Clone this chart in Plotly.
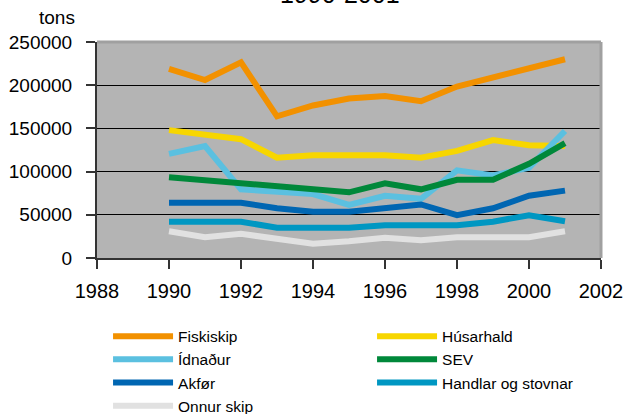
import plotly.graph_objects as go

years = list(range(1990, 2002))

fiskiskip = [219000, 206000, 226500, 164000, 176500, 184500, 187500, 181500, 198500, 209000, 219500, 230000]
husarhald = [148000, 142000, 137500, 116000, 119000, 119000, 119000, 116000, 124000, 136500, 130500, 129500]
idnadur = [120500, 129500, 79500, 76000, 74000, 61500, 72000, 68500, 101500, 95500, 104500, 147000]
sev = [93500, 90000, 86500, 83500, 80000, 76000, 86500, 79500, 90500, 90500, 109000, 133000]
akfor = [64000, 64000, 64000, 57500, 53500, 53500, 57500, 62000, 49500, 57500, 72000, 78000]
handlar = [42000, 42000, 42000, 35000, 35000, 35000, 38000, 38000, 38000, 42000, 49500, 42500]
onnur = [31000, 24000, 28000, 21500, 16500, 19500, 23500, 20500, 24000, 24000, 24000, 31000]

series_names = ["Fiskiskip", "Húsarhald", "Ídnaður", "SEV", "Akfør", "Handlar og stovnar", "Onnur skip"]
series_values = [fiskiskip, husarhald, idnadur, sev, akfor, handlar, onnur]
colors = ["#F29100", "#F7D600", "#5BC0E0", "#00883A", "#0066B2", "#0097C2", "#E1E1E1"]

y_ticks = [0, 50000, 100000, 150000, 200000, 250000]
x_ticks = [1988, 1990, 1992, 1994, 1996, 1998, 2000, 2002]
title_text = "1990-2001"
y_unit = "tons"

FONT = "Liberation Sans, Arial, sans-serif"

fig = go.Figure()
for i, (name, vals, col) in enumerate(zip(series_names, series_values, colors)):
    fig.add_trace(go.Scatter(x=years, y=vals, mode="lines", name=name,
                             line=dict(color=col, width=6),
                             legendwidth=189 if i % 2 == 0 else 154))

fig.update_layout(
    width=624, height=414,
    margin=dict(l=97, r=23, t=42, b=156, autoexpand=False),
    paper_bgcolor="white",
    plot_bgcolor="#B4B4B4",
    font=dict(family=FONT, color="black", size=19),
    showlegend=True,
    legend=dict(
        orientation="h",
        x=1.0001, xanchor="right",
        y=-0.2854, yanchor="top",
        font=dict(family=FONT, size=15.5, color="black"),
        itemwidth=60,
        tracegroupgap=0,
        bgcolor="rgba(0,0,0,0)",
    ),
    xaxis=dict(
        range=[1988, 2002], tickvals=x_ticks, ticktext=[str(v) for v in x_ticks],
        showgrid=False, zeroline=False,
        showline=True, linecolor="#333333", linewidth=2,
        ticks="outside", ticklen=9, tickcolor="#333333", tickwidth=2,
        tickfont=dict(size=20, family=FONT), ticklabelstandoff=5,
    ),
    yaxis=dict(
        range=[0, 250000], tickvals=y_ticks, ticktext=[str(v) for v in y_ticks],
        showgrid=True, gridcolor="black", gridwidth=1,
        zeroline=False,
        showline=True, linecolor="#333333", linewidth=2,
        ticks="outside", ticklen=9, tickcolor="#333333", tickwidth=2,
        tickfont=dict(size=19, family=FONT), ticklabelstandoff=10,
    ),
    shapes=[
        dict(type="line", xref="paper", yref="paper", x0=0, x1=1, y0=1, y1=1,
             line=dict(color="#A0A0A0", width=3), layer="above"),
        dict(type="line", xref="paper", yref="paper", x0=1, x1=1, y0=0, y1=1,
             line=dict(color="#A0A0A0", width=3), layer="above"),
    ],
    annotations=[
        dict(text=title_text, xref="paper", yref="paper", x=0.4825, y=1.222,
             xanchor="center", yanchor="middle", showarrow=False,
             font=dict(size=25, family=FONT, color="black")),
        dict(text=y_unit, xref="paper", yref="paper", x=0, y=1.115,
             xanchor="right", yanchor="middle", xshift=-20, showarrow=False,
             font=dict(size=19, family=FONT, color="black")),
    ],
)

fig.write_html("out.html", config={"displayModeBar": False},
               post_script="document.body.style.margin='0';document.body.style.overflow='hidden';")
